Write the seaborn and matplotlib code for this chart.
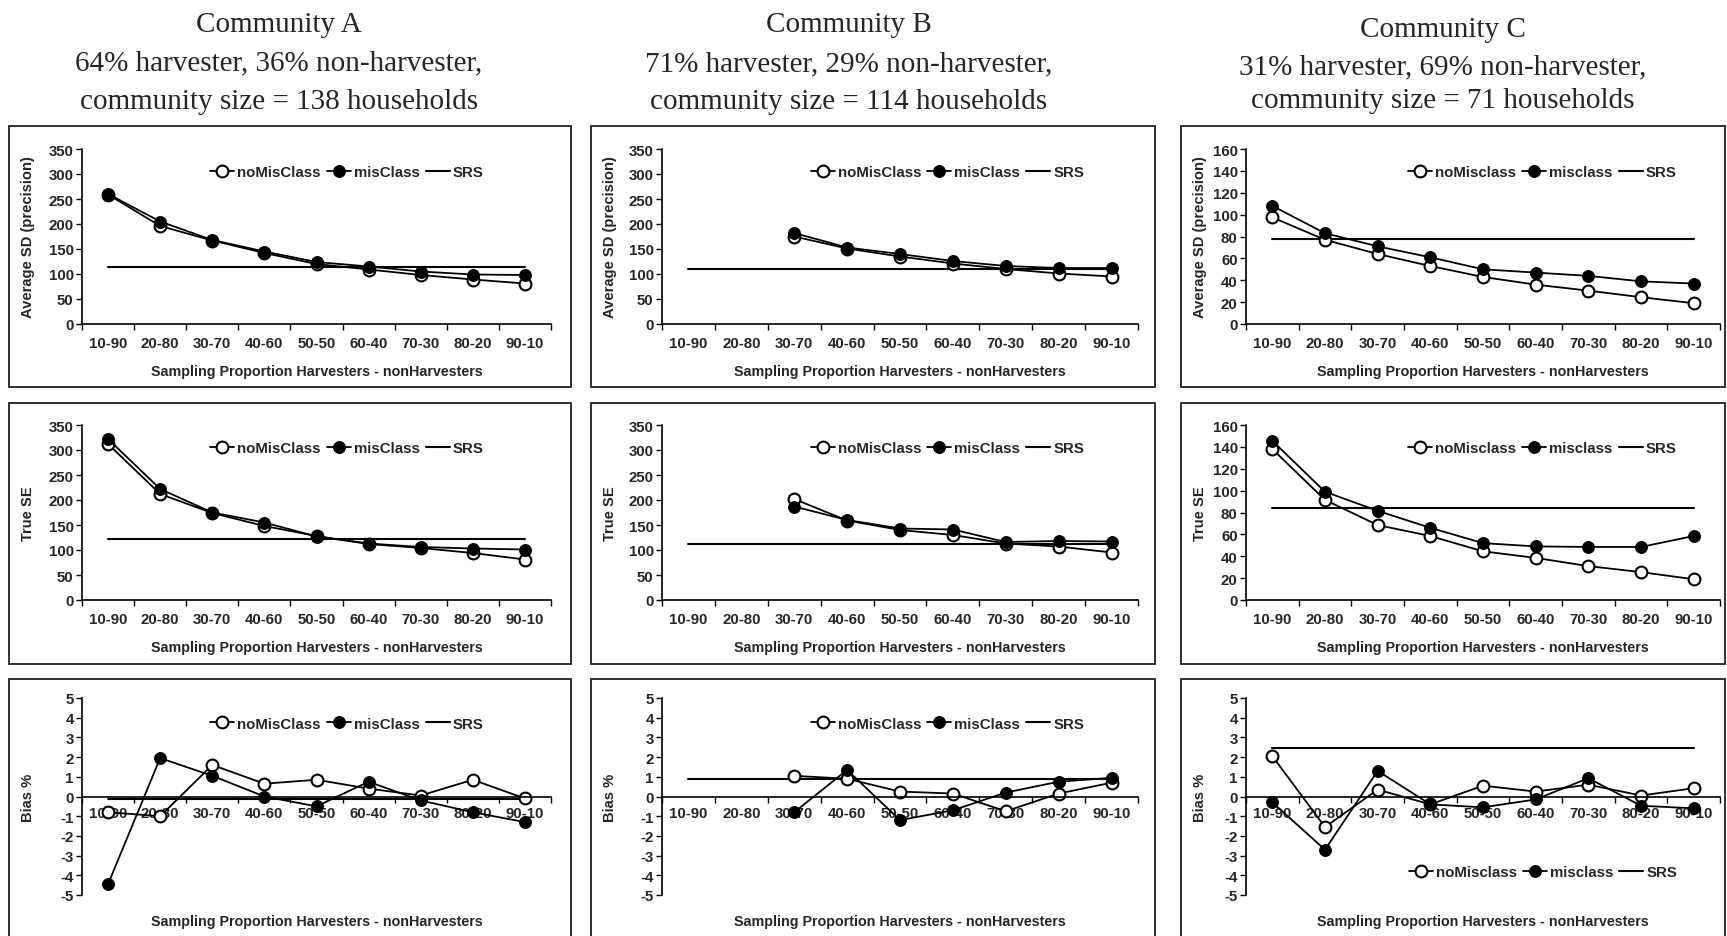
import numpy as np
import matplotlib
matplotlib.use("Agg")
import matplotlib.pyplot as plt
from matplotlib.patches import Rectangle
import seaborn as sns

nan = np.nan
categories = ["10-90", "20-80", "30-70", "40-60", "50-50", "60-40", "70-30", "80-20", "90-10"]

# Community A
a_sd_nomis = [259, 196, 167, 142, 120, 109, 98, 89, 81]
a_sd_mis = [260, 205, 168, 145, 124, 115, 105, 99, 98]
a_sd_srs = [115] * 9
a_se_nomis = [312, 212, 174, 148, 128, 112, 104, 94, 81]
a_se_mis = [322, 222, 175, 155, 127, 113, 106, 103, 101]
a_se_srs = [122] * 9
a_bias_nomis = [-0.8, -1.0, 1.6, 0.65, 0.85, 0.4, 0.05, 0.85, -0.1]
a_bias_mis = [-4.45, 1.95, 1.05, 0.0, -0.5, 0.75, -0.2, -0.8, -1.3]
a_bias_srs = [-0.12] * 9

# Community B
b_sd_nomis = [nan, nan, 175, 151, 135, 121, 110, 101, 95]
b_sd_mis = [nan, nan, 182, 153, 140, 126, 116, 112, 112]
b_sd_srs = [111] * 9
b_se_nomis = [nan, nan, 202, 159, 140, 130, 113, 107, 95]
b_se_mis = [nan, nan, 187, 160, 143, 141, 116, 118, 117]
b_se_srs = [113] * 9
b_bias_nomis = [nan, nan, 1.05, 0.9, 0.25, 0.15, -0.75, 0.15, 0.7]
b_bias_mis = [nan, nan, -0.8, 1.35, -1.2, -0.7, 0.2, 0.75, 0.95]
b_bias_srs = [0.88] * 9

# Community C
c_sd_nomis = [97.5, 77, 64, 53, 43, 36, 30.5, 24.5, 19]
c_sd_mis = [108, 83, 71, 61, 50, 47, 44, 39, 37]
c_sd_srs = [78] * 9
c_se_nomis = [138, 91.5, 68.5, 58.5, 44.5, 38.5, 31, 25.5, 19]
c_se_mis = [145.5, 99, 81.5, 66, 52, 49, 48.5, 48.5, 58.5]
c_se_srs = [84] * 9
c_bias_nomis = [2.05, -1.55, 0.35, -0.4, 0.55, 0.25, 0.6, 0.05, 0.42]
c_bias_mis = [-0.3, -2.7, 1.3, -0.4, -0.55, -0.15, 0.93, -0.47, -0.6]
c_bias_srs = [2.45] * 9

titles = [
    ["Community A", "64% harvester, 36% non-harvester,", "community size = 138 households"],
    ["Community B", "71% harvester, 29% non-harvester,", "community size = 114 households"],
    ["Community C", "31% harvester, 69% non-harvester,", "community size = 71 households"],
]
legend_labels = [
    ["noMisClass", "misClass", "SRS"],
    ["noMisClass", "misClass", "SRS"],
    ["noMisclass", "misclass", "SRS"],
]
xlabel = "Sampling Proportion Harvesters - nonHarvesters"
ylabels = ["Average SD (precision)", "True SE", "Bias %"]

sns.set_theme(style="white")
plt.rcParams["font.family"] = ["Liberation Sans", "DejaVu Sans"]
plt.rcParams["font.weight"] = "bold"
plt.rcParams["axes.unicode_minus"] = False

W, H = 1727, 937
fig = plt.figure(figsize=(W / 100, H / 100), dpi=100)

col_x = [(82, 551), (662, 1138), (1246, 1720)]
row_y = [(150, 325), (426, 601), (699, 896)]
box_x = [(9, 571), (591, 1155), (1181, 1725)]
box_y = [(127, 388), (404, 665), (680, 945)]
title_pos = [(279, [25, 63, 102]), (849, [25, 64, 102]), (1443, [30, 67, 101])]
ylab_off = [54, 52, 46]
leg_x = [0.565, 0.60, 0.625]

data = [
    [(a_sd_nomis, a_sd_mis, a_sd_srs), (a_se_nomis, a_se_mis, a_se_srs), (a_bias_nomis, a_bias_mis, a_bias_srs)],
    [(b_sd_nomis, b_sd_mis, b_sd_srs), (b_se_nomis, b_se_mis, b_se_srs), (b_bias_nomis, b_bias_mis, b_bias_srs)],
    [(c_sd_nomis, c_sd_mis, c_sd_srs), (c_se_nomis, c_se_mis, c_se_srs), (c_bias_nomis, c_bias_mis, c_bias_srs)],
]

x = np.arange(len(categories))

for ci in range(3):
    cx, tys = title_pos[ci]
    for line, ty in zip(titles[ci], tys):
        fig.text(cx / W, 1 - ty / H, line, ha="center", va="center",
                 family="Liberation Serif", weight="normal", size=21)
    for ri in range(3):
        bx0, bx1 = box_x[ci]
        by0, by1 = box_y[ri]
        fig.patches.append(Rectangle((bx0 / W, 1 - by1 / H), (bx1 - bx0) / W, (by1 - by0) / H,
                                     transform=fig.transFigure, fill=False,
                                     edgecolor="#222222", lw=1.3))
        x0, x1 = col_x[ci]
        y0, y1 = row_y[ri]
        wpx, hpx = x1 - x0, y1 - y0
        ax = fig.add_axes([x0 / W, 1 - y1 / H, wpx / W, hpx / H])
        ax.set_facecolor("none")
        nomis, mis, srs = data[ci][ri]
        labs = legend_labels[ci]

        sns.lineplot(x=x, y=srs, ax=ax, color="black", lw=1.5, label=labs[2])
        sns.lineplot(x=x, y=nomis, ax=ax, color="black", lw=1.3, marker="o", markersize=8.5,
                     markerfacecolor="white", markeredgecolor="black", markeredgewidth=1.5,
                     label=labs[0])
        sns.lineplot(x=x, y=mis, ax=ax, color="black", lw=1.3, marker="o", markersize=8.5,
                     markerfacecolor="black", markeredgecolor="black", label=labs[1])

        bias = ri == 2
        if bias:
            ax.set_ylim(-5, 5)
            ax.set_yticks(np.arange(-5, 6, 1))
            ax.spines["bottom"].set_position(("data", 0))
            xpad = 6.5
        else:
            top = 160 if ci == 2 else 350
            step = 20 if ci == 2 else 50
            ax.set_ylim(0, top)
            ax.set_yticks(np.arange(0, top + 1, step))
            xpad = 9

        ax.set_xlim(-0.5, 8.5)
        ax.set_xticks(x)
        ax.set_xticklabels(categories)
        ax.set_xticks(np.arange(-0.5, 9, 1), minor=True)
        ax.tick_params(axis="x", which="major", length=0, pad=xpad, labelsize=10.8)
        ax.tick_params(axis="x", which="minor", length=4, width=1, direction="out",
                       bottom=True, color="black")
        ax.tick_params(axis="y", length=4, width=1, direction="out", left=True,
                       pad=2, labelsize=10.8, color="black")
        for lab in ax.get_xticklabels() + ax.get_yticklabels():
            lab.set_fontweight("bold")

        for s in ["top", "right"]:
            ax.spines[s].set_visible(False)
        for s in ["left", "bottom"]:
            ax.spines[s].set_color("black")
            ax.spines[s].set_linewidth(1.2)

        ax.set_xlabel(xlabel, fontsize=10.3, fontweight="bold")
        ax.xaxis.label.set_va("center")
        if bias:
            ax.xaxis.set_label_coords(0.5, -26 / hpx)
        else:
            ax.xaxis.set_label_coords(0.5, -47 / hpx)
        ax.set_ylabel(ylabels[ri], fontsize=10.6, fontweight="bold")
        ax.yaxis.label.set_va("center")
        ax.yaxis.set_label_coords(-ylab_off[ci] / wpx, 0.5)

        h, l = ax.get_legend_handles_labels()
        order = [l.index(labs[0]), l.index(labs[1]), l.index(labs[2])]
        if ci == 2 and bias:
            lpos = (0.627, 0.117)
        else:
            lpos = (leg_x[ci], 0.87)
        ax.legend([h[i] for i in order], [l[i] for i in order], ncol=3, loc="center",
                  bbox_to_anchor=lpos, frameon=False, handlelength=1.6, handletextpad=0.2,
                  columnspacing=0.4, borderaxespad=0,
                  prop={"weight": "bold", "size": 10.8})

fig.savefig("out.png", dpi=100)
